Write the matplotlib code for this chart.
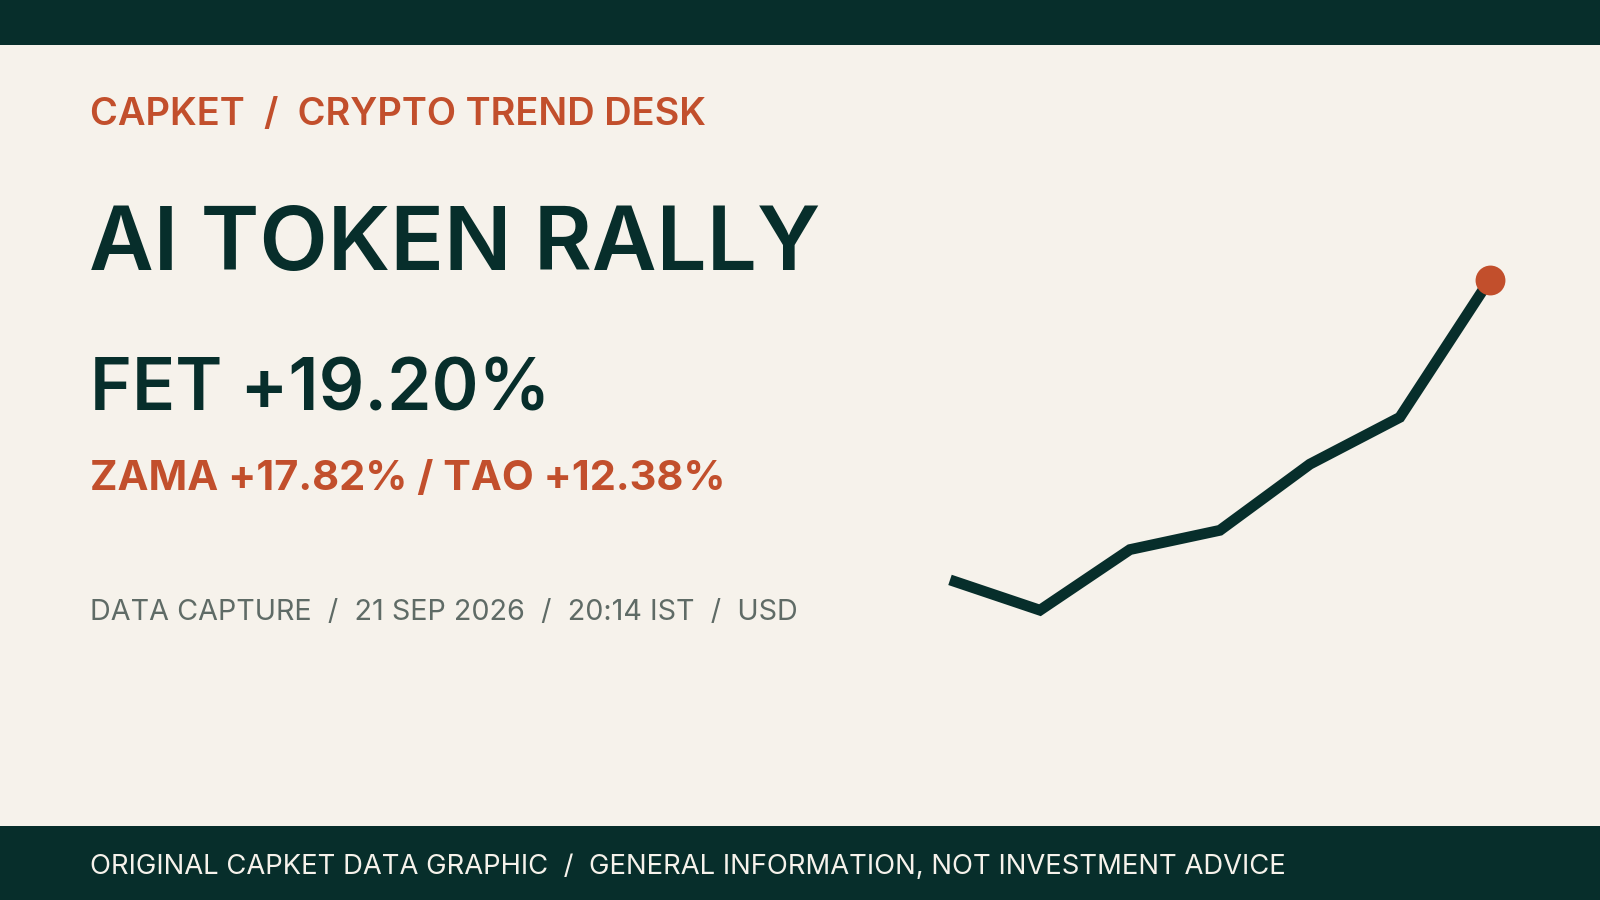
import matplotlib
matplotlib.use('Agg')
import matplotlib.pyplot as plt
from matplotlib.patches import Rectangle

DARK = '#072e2b'
RUST = '#c24f2c'
CREAM = '#f6f2eb'
GREY = '#5f6b66'

# trend line values
trend_x = [0, 1, 2, 3, 4, 5, 6]
trend_y = [30.5, 25.0, 36.0, 39.5, 51.5, 60.0, 85.0]

header = 'CAPKET  /  CRYPTO TREND DESK'
title = 'AI TOKEN RALLY'
lead = 'FET +19.20%'
others = 'ZAMA +17.82% / TAO +12.38%'
capture = 'DATA CAPTURE  /  21 SEP 2026  /  20:14 IST  /  USD'
footer = 'ORIGINAL CAPKET DATA GRAPHIC  /  GENERAL INFORMATION, NOT INVESTMENT ADVICE'

W, H = 1568, 882
plt.rcParams['font.family'] = ['Inter', 'DejaVu Sans']
fig = plt.figure(figsize=(16, 9), dpi=100, facecolor=CREAM)

# full figure axes in pixels of the reference
bg = fig.add_axes([0, 0, 1, 1])
bg.set_xlim(0, W)
bg.set_ylim(H, 0)
bg.axis('off')
bg.add_patch(Rectangle((0, 0), W, 44, color=DARK, lw=0))
bg.add_patch(Rectangle((0, 809.5), W, 73, color=DARK, lw=0))

bg.text(88, 122.5, header, color=RUST, fontsize=27.4, fontweight='semibold', va='baseline')
bg.text(87, 265, title, color=DARK, fontsize=64, fontweight='semibold', va='baseline')
bg.text(88, 402, lead, color=DARK, fontsize=51.4, fontweight='semibold', va='baseline')
bg.text(88, 480, others, color=RUST, fontsize=29.9, fontweight='bold', va='baseline')
bg.text(88, 608, capture, color=GREY, fontsize=20.7, va='baseline')
bg.text(88, 857, footer, color=CREAM, fontsize=19.75, va='baseline')

# chart axes: x 931..1460, y 598..274 in reference pixels
ax = fig.add_axes([931 / W, 1 - 598 / H, (1460 - 931) / W, (598 - 274) / H])
ax.set_xlim(0, 6)
ax.set_ylim(25, 85)
ax.axis('off')
ax.plot(trend_x, trend_y, color=DARK, lw=7.8, solid_joinstyle='miter', solid_capstyle='butt', clip_on=False)
ax.plot(trend_x[-1], trend_y[-1], 'o', color=RUST, ms=21.5, mew=0, clip_on=False)

fig.savefig('out.png', dpi=100, facecolor=CREAM)
